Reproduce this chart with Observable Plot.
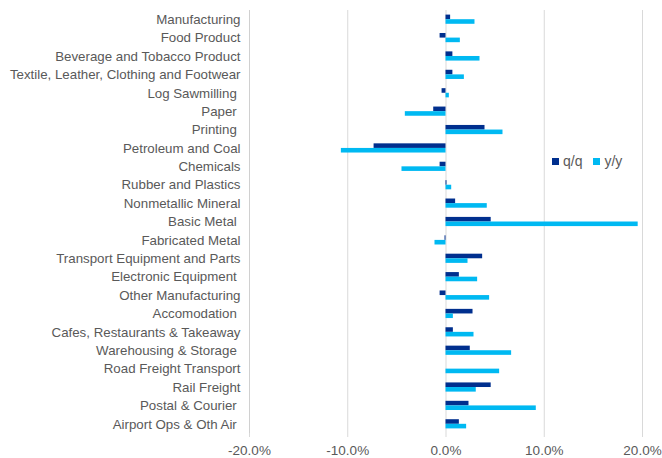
<!DOCTYPE html>
<html>
<head>
<meta charset="utf-8">
<script src="https://cdn.jsdelivr.net/npm/d3@7"></script>
<script src="https://cdn.jsdelivr.net/npm/@observablehq/plot@0.6"></script>
<style>
  html, body { margin: 0; padding: 0; background: #fff; }
  #wrap { position: relative; width: 662px; height: 458px; font-family: "Liberation Sans", Arial, sans-serif; }
  #legend { position: absolute; left: 552px; top: 153px; display: flex; align-items: center; font-size: 14px; color: #595959; }
  #legend .sw { display: inline-block; width: 7px; height: 7px; margin-right: 4px; }
  #legend .item { display: flex; align-items: center; margin-right: 11px; }
</style>
</head>
<body>
<div id="wrap"></div>
<script>
// Industry categories, top to bottom
const categories = [
  "Manufacturing",
  "Food Product",
  "Beverage and Tobacco Product",
  "Textile, Leather, Clothing and Footwear",
  "Log Sawmilling\u00a0",
  "Paper\u00a0",
  "Printing\u00a0",
  "Petroleum and Coal",
  "Chemicals",
  "Rubber and Plastics",
  "Nonmetallic Mineral",
  "Basic Metal\u00a0",
  "Fabricated Metal",
  "Transport Equipment and Parts",
  "Electronic Equipment\u00a0",
  "Other Manufacturing",
  "Accomodation\u00a0",
  "Cafes, Restaurants & Takeaway",
  "Warehousing & Storage\u00a0",
  "Road Freight Transport",
  "Rail Freight",
  "Postal & Courier\u00a0",
  "Airport Ops & Oth Air\u00a0"
];

// Quarter-on-quarter change, %
const qq = [0.47, -0.6, 0.7, 0.7, -0.4, -1.25, 3.97, -7.32, -0.6, 0.1, 0.98, 4.6,
            -0.1, 3.73, 1.36, -0.6, 2.75, 0.75, 2.47, 0, 4.6, 2.34, 1.36];

// Year-on-year change, %
const yy = [2.95, 1.46, 3.46, 1.87, 0.34, -4.14, 5.8, -10.65, -4.48, 0.58, 4.2, 19.56,
            -1.12, 2.24, 3.22, 4.44, 0.75, 2.85, 6.68, 5.46, 3.08, 9.19, 2.1];

// Axis ticks, %
const xTicks = [-20, -10, 0, 10, 20];

const seriesNames = ["q/q", "y/y"];
const seriesColors = ["#002F8E", "#00B9F2"];

const rows = categories.map((c, i) => ({category: c, qq: qq[i], yy: yy[i]}));

const chart = Plot.plot({
  width: 662,
  height: 458,
  marginLeft: 249,
  marginRight: 20,
  marginTop: 10,
  marginBottom: 25,
  style: {fontFamily: "Liberation Sans, Arial, sans-serif", fontSize: "13px", color: "#595959", background: "#fff"},
  x: {domain: [-20, 20], label: null},
  y: {domain: categories, padding: 0, round: false, label: null},
  marks: [
    Plot.gridX(xTicks.slice(1), {stroke: "#d9d9d9", strokeOpacity: 1, strokeWidth: 1}),
    Plot.ruleX([xTicks[0]], {stroke: "#d0d0d0", strokeWidth: 1}),
    Plot.axisX({ticks: xTicks, tickFormat: d => d.toFixed(1) + "%", tickSize: 4, tickPadding: 8,
                stroke: "#d9d9d9", fill: "#595959", fontSize: 13.5, label: null}),
    Plot.axisY({tickSize: 0, tickPadding: 9, fill: "#595959", fontSize: 13.3, label: null}),
    Plot.barX(rows, {y: "category", x: "qq", fill: seriesColors[0], insetTop: 4.6, insetBottom: 9.2}),
    Plot.barX(rows, {y: "category", x: "yy", fill: seriesColors[1], insetTop: 9.2, insetBottom: 4.6})
  ]
});

const wrap = document.getElementById("wrap");
wrap.appendChild(chart);

// Legend
const legend = document.createElement("div");
legend.id = "legend";
seriesNames.forEach((name, i) => {
  const item = document.createElement("span");
  item.className = "item";
  const sw = document.createElement("span");
  sw.className = "sw";
  sw.style.background = seriesColors[i];
  item.appendChild(sw);
  item.appendChild(document.createTextNode(name));
  legend.appendChild(item);
});
wrap.appendChild(legend);
</script>
</body>
</html>
